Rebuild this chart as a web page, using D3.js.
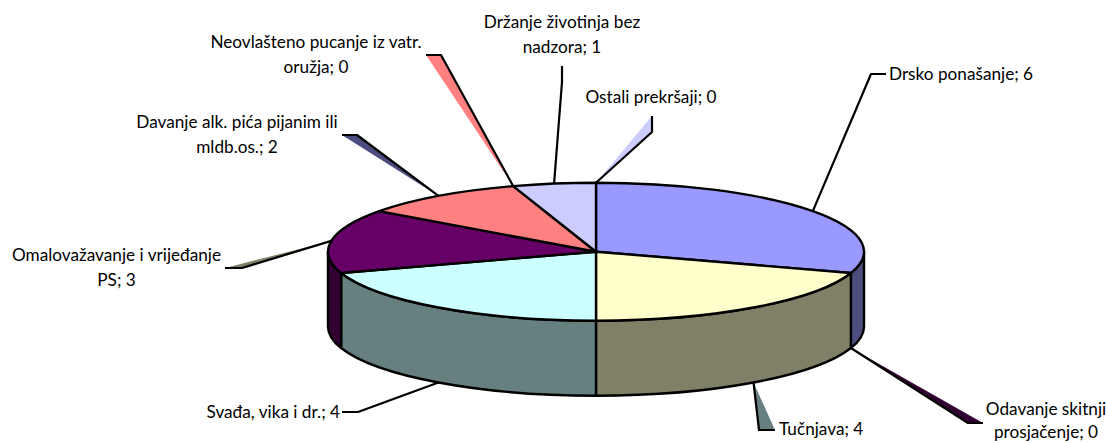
<!DOCTYPE html>
<html>
<head>
<meta charset="utf-8">
<script src="https://cdn.jsdelivr.net/npm/d3@7/dist/d3.min.js"></script>
<style>
    html, body { margin: 0; padding: 0; background: #fff; }
    text { font-family: Lato, "Open Sans", sans-serif; font-size: 17.2px; fill: #000; }
</style>
</head>
<body>
<div id="chart"></div>
<script>
// slice order, clockwise from 12 o'clock
var categories = ["Drsko ponašanje", "Odavanje skitnji prosjačenje", "Tučnjava", "Svađa, vika i dr.",
    "Omalovažavanje i vrijeđanje PS", "Davanje alk. pića pijanim ili mldb.os.",
    "Neovlašteno pucanje iz vatr. oružja", "Držanje životinja bez nadzora", "Ostali prekršaji"];
var values = [6, 0, 4, 4, 3, 2, 0, 1, 0];

var colors = ["#9999FF", "#993366", "#FFFFCC", "#CCFFFF", "#660066", "#FF8080", "#0066CC", "#CCCCFF", "#000080"];
// the leader lines of some labels are filled in the original
var leaderFills = ["none", "#330033", "#668080", "none", "#808066", "#4C4C80", "#FF8080", "none", "#CCCCFF"];

// label placement: two bends of the leader, then text lines
var labelLayout = [
    {bends: [[871, 74], [886, 74]], anchor: "start", x: 889, lines: ["Drsko ponašanje; 6"], y: [80]},
    {bends: [[968, 423], [983, 423]], anchor: "middle", x: 1046, lines: ["Odavanje skitnji", "prosjačenje; 0"], y: [415, 437.5]},
    {bends: [[759, 430], [775, 430]], anchor: "start", x: 779, lines: ["Tučnjava; 4"], y: [435]},
    {bends: [[358, 412], [342, 412]], anchor: "end", x: 340, lines: ["Svađa, vika i dr.; 4"], y: [418]},
    {bends: [[242, 268], [225, 268]], anchor: "middle", x: 116.5, lines: ["Omalovažavanje i vrijeđanje", "PS; 3"], y: [261, 286]},
    {bends: [[357, 135], [342, 135]], anchor: "middle", x: 237, lines: ["Davanje alk. pića pijanim ili", "mldb.os.; 2"], y: [128, 153]},
    {bends: [[441, 55], [426, 55]], anchor: "middle", x: 316, lines: ["Neovlašteno pucanje iz vatr.", "oružja; 0"], y: [48, 73]},
    {bends: [[562, 82], [562, 66]], anchor: "middle", x: 562, lines: ["Držanje životinja bez", "nadzora; 1"], y: [28, 53]},
    {bends: [[652, 132], [652, 116]], anchor: "middle", x: 651, lines: ["Ostali prekršaji; 0"], y: [103]}
];

var width = 1106,
    height = 443,
    cx = 596,
    cy = 251.7,
    rx = 268,
    ry = 69,
    depth = 75;

var svg = d3.select("#chart")
    .append("svg")
    .attr("width", width)
    .attr("height", height)
    .style("display", "block");

var pie = d3.pie()
    .value(function (d) { return d; })
    .sort(null);

var slices = pie(values);

function rim(t) {
    return [cx + rx * Math.sin(t), cy - ry * Math.cos(t)];
}

function halfColor(c) {
    var rgb = d3.rgb(c);
    return d3.rgb(rgb.r / 2, rgb.g / 2, rgb.b / 2).formatHex();
}

// walls: only the part of each slice in the front half of the ellipse shows
function wallPath(d) {
    var a0 = Math.max(d.startAngle, Math.PI / 2),
        a1 = Math.min(d.endAngle, Math.PI * 3 / 2),
        p0 = rim(a0),
        p1 = rim(a1);
    return "M" + p0 + "A" + rx + "," + ry + " 0 0 1 " + p1 +
        "L" + p1[0] + "," + (p1[1] + depth) +
        "A" + rx + "," + ry + " 0 0 0 " + p0[0] + "," + (p0[1] + depth) + "Z";
}

svg.append("g")
    .selectAll("path")
    .data(slices.filter(function (d) {
        return d.value > 0 && d.endAngle > Math.PI / 2 && d.startAngle < Math.PI * 3 / 2;
    }))
    .enter().append("path")
    .attr("d", wallPath)
    .attr("fill", function (d) { return halfColor(colors[d.index]); })
    .attr("stroke", "#000")
    .attr("stroke-width", 2.4)
    .attr("stroke-linejoin", "round");

// top face: a circular arc squashed into an ellipse
var arc = d3.arc()
    .innerRadius(0)
    .outerRadius(rx);

svg.append("g")
    .attr("transform", "translate(" + cx + "," + cy + ") scale(1," + (ry / rx) + ")")
    .selectAll("path")
    .data(slices.filter(function (d) { return d.value > 0; }))
    .enter().append("path")
    .attr("d", arc)
    .attr("fill", function (d) { return colors[d.index]; })
    .attr("stroke", "#000")
    .attr("stroke-width", 2.4)
    .attr("stroke-linejoin", "round")
    .attr("vector-effect", "non-scaling-stroke");

// leader lines start on the rim at the middle of the slice
var line = d3.line();

function leaderPoints(d) {
    var t = (d.startAngle + d.endAngle) / 2,
        p = rim(t),
        front = t > Math.PI / 2 && t < Math.PI * 3 / 2;
    if (front) p[1] += depth;
    return [p].concat(labelLayout[d.index].bends);
}

svg.append("g")
    .selectAll("path")
    .data(slices)
    .enter().append("path")
    .attr("d", function (d) { return line(leaderPoints(d)); })
    .attr("fill", function (d) { return leaderFills[d.index]; })
    .attr("stroke", "#000")
    .attr("stroke-width", 2.2)
    .attr("stroke-linejoin", "round");

// labels
labelLayout.forEach(function (l) {
    l.lines.forEach(function (txt, i) {
        svg.append("text")
            .attr("x", l.x)
            .attr("y", l.y[i])
            .attr("text-anchor", l.anchor)
            .text(txt);
    });
});
</script>
</body>
</html>
